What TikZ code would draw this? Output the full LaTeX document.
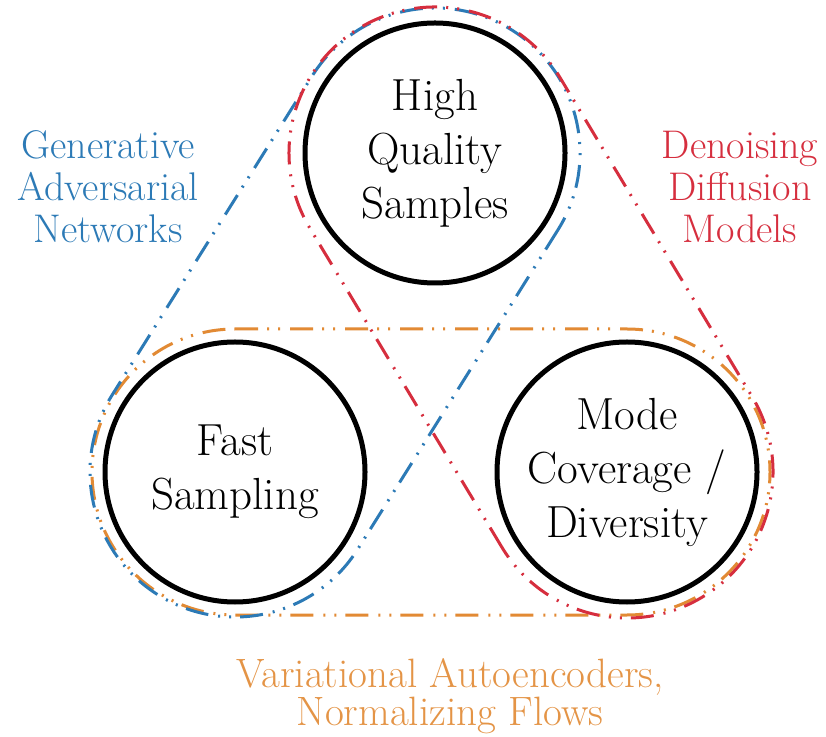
\documentclass[tikz,border=0pt]{standalone}
\usetikzlibrary{calc}
\definecolor{gancol}{RGB}{44,122,182}
\definecolor{ddmcol}{RGB}{214,46,62}
\definecolor{vaecol}{RGB}{226,138,52}
\definecolor{vaetext}{RGB}{228,148,70}
\tikzset{
  bigcirc/.style={circle, draw=black, line width=5pt, minimum size=260pt, inner sep=0pt,
    align=center, font=\rmfamily\fontsize{45}{54}\selectfont},
  loopline/.style={line width=3pt, dash pattern=on 23pt off 9pt on 2pt off 9pt on 2pt off 10pt},
  lbl/.style={align=center, font=\rmfamily\fontsize{40}{42}\selectfont},
}
\newcommand\drawstadium[4]{%
  \draw[#1] let \p1=($(#3)-(#2)$), \n1={atan2(\y1,\x1)} in
    ($(#2)+(\n1+90:#4)$) -- ($(#3)+(\n1+90:#4)$)
    arc[start angle=\n1+90, delta angle=-180, radius=#4]
    -- ($(#2)+(\n1-90:#4)$)
    arc[start angle=\n1-90, delta angle=-180, radius=#4] -- cycle;}
\begin{document}
\begin{tikzpicture}[x=1pt,y=1pt]
  \useasboundingbox[fill=white] (0,0) rectangle (826,736);
  \coordinate (cHQ) at (435,583);
  \coordinate (cFS) at (235,264);
  \coordinate (cMC) at (627,264);
  % family loops
  \drawstadium{loopline, draw=vaecol}{cFS}{cMC}{143pt}
  \drawstadium{loopline, draw=gancol}{cHQ}{cFS}{145pt}
  \drawstadium{loopline, draw=ddmcol}{cMC}{cHQ}{146pt}
  % property circles
  \node[bigcirc] (hq) at (cHQ) {High\\Quality\\Samples};
  \node[bigcirc] (fs) at (cFS) {Fast\\Sampling};
  \node[bigcirc] (mc) at (cMC) {Mode\\Coverage /\\Diversity};
  % labels
  \node[lbl, text=gancol] (gan) at (108,549) {Generative\\Adversarial\\Networks};
  \node[lbl, text=ddmcol] (ddm) at (740,549) {Denoising\\Diffusion\\Models};
  \node[lbl, text=vaetext, font=\rmfamily\fontsize{41}{38}\selectfont] (vae) at (450,40) {Variational Autoencoders,\\Normalizing Flows};
\end{tikzpicture}
\end{document}
